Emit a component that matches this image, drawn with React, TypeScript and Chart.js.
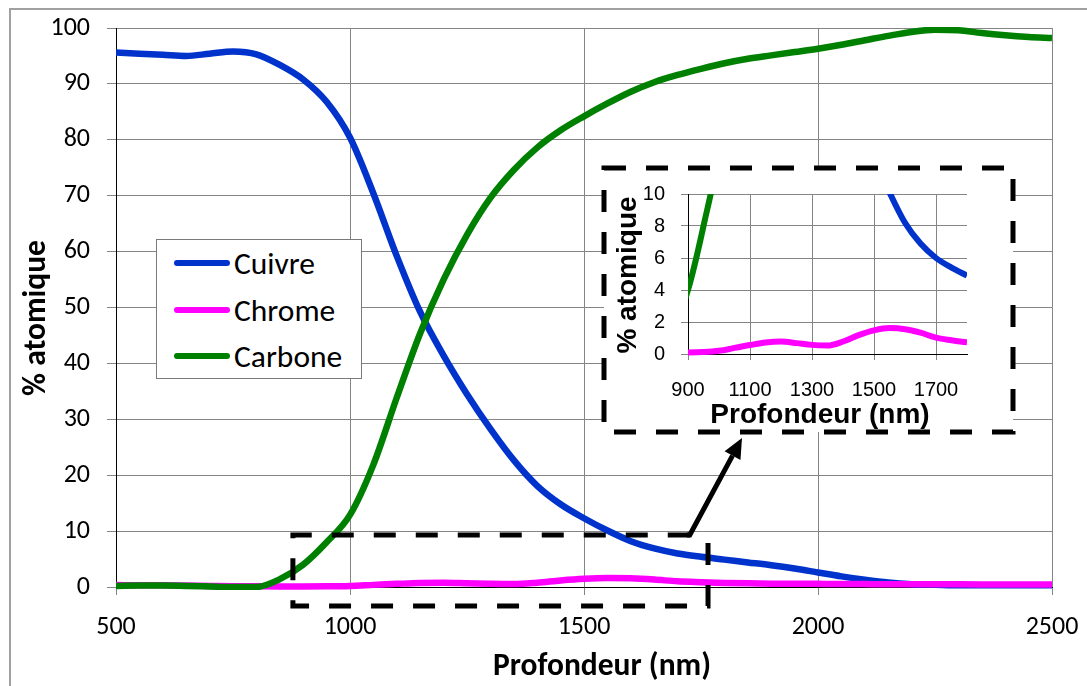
import React, { useEffect, useRef } from "react";
import { Chart, registerables } from "chart.js";
Chart.register(...registerables);

// ---------- data ----------
const DEPTH = [
  500, 550, 600, 650, 700, 750, 800, 850, 900, 950, 1000, 1050, 1100, 1150, 1200, 1250, 1300, 1350, 1400, 1450,
  1500, 1550, 1600, 1650, 1700, 1750, 1800, 1850, 1900, 1950, 2000, 2050, 2100, 2150, 2200, 2250, 2300, 2350,
  2400, 2450, 2500,
];
const CUIVRE = [
  95.6, 95.4, 95.2, 95.0, 95.4, 95.8, 95.3, 93.4, 90.8, 86.8, 80.4, 70.4, 59.2, 49.2, 41.4, 34.5, 28.3, 22.7, 18.1,
  14.8, 12.3, 10.1, 8.2, 6.9, 6.0, 5.4, 4.9, 4.4, 3.9, 3.3, 2.6, 1.9, 1.3, 0.8, 0.5, 0.4, 0.3, 0.3, 0.3, 0.3, 0.3,
];
const CHROME = [
  0.35, 0.3, 0.3, 0.25, 0.2, 0.15, 0.12, 0.1, 0.1, 0.12, 0.2, 0.38, 0.56, 0.72, 0.78, 0.68, 0.57, 0.53, 0.78, 1.18,
  1.48, 1.62, 1.55, 1.33, 1.02, 0.86, 0.73, 0.65, 0.6, 0.58, 0.56, 0.55, 0.52, 0.5, 0.5, 0.48, 0.47, 0.46, 0.45,
  0.45, 0.45,
];
const CARBONE = [
  0.2, 0.25, 0.25, 0.2, 0.1, 0.0, 0.0, 1.4, 4.0, 8.0, 12.9, 21.9, 33.9, 45.4, 55.0, 63.0, 69.6, 74.6, 78.6, 81.7,
  84.2, 86.5, 88.6, 90.3, 91.6, 92.7, 93.7, 94.5, 95.1, 95.7, 96.3, 97.0, 97.8, 98.6, 99.3, 99.7, 99.6, 99.1, 98.7,
  98.4, 98.2,
];
const SERIES_NAMES = ["Cuivre", "Chrome", "Carbone"];
const SERIES_COLORS = ["#0033CC", "#FF00FF", "#008000"];

const MAIN_X_TICKS = [500, 1000, 1500, 2000, 2500];
const MAIN_Y_TICKS = [0, 10, 20, 30, 40, 50, 60, 70, 80, 90, 100];
const INSET_X_TICKS = [900, 1100, 1300, 1500, 1700];
const INSET_Y_TICKS = [0, 2, 4, 6, 8, 10];

const X_TITLE = "Profondeur (nm)";
const Y_TITLE = "% atomique";

// highlighted region of the main chart (data units)
const ZOOM_X = [878, 1765];
const ZOOM_Y = [-3.4, 9.3];
const ARROW_FROM_X = 1726;

const MAIN_FONT = "Carlito, Calibri, Lato, sans-serif";
const INSET_FONT = "'Liberation Sans', Arial, sans-serif";

function makeDatasets(width: number, inset: boolean) {
  const values = [CUIVRE, CHROME, CARBONE];
  return values.map((vals, i) => ({
    label: SERIES_NAMES[i],
    data: DEPTH.map((x, j) => ({ x, y: vals[j] })),
    borderColor: SERIES_COLORS[i],
    backgroundColor: SERIES_COLORS[i],
    borderWidth: width,
    pointRadius: 0,
    fill: false,
    cubicInterpolationMode: "monotone" as const,
    order: 2 - i,
    clip: inset ? { left: 0, top: 0, right: 0, bottom: 3 } : { left: 0, top: 1, right: 0, bottom: 3 },
  }));
}

function setTicks(list: number[]) {
  return (scale: any) => {
    scale.ticks = list.map((v) => ({ value: v }));
  };
}

function fixX(height: number) {
  return (s: any) => {
    s.height = height;
    s.paddingLeft = 0;
    s.paddingRight = 0;
  };
}
function fixY(width: number) {
  return (s: any) => {
    s.width = width;
    s.paddingTop = 0;
    s.paddingBottom = 0;
  };
}

const plainLabel = (v: any) => String(v);

export default function App() {
  const mainRef = useRef<HTMLCanvasElement>(null);
  const insetRef = useRef<HTMLCanvasElement>(null);

  useEffect(() => {
    const mainOverlay = {
      id: "mainOverlay",
      afterDraw(chart: any) {
        const ctx = chart.ctx;
        const xs = chart.scales.x;
        const ys = chart.scales.y;
        ctx.save();
        // inset frame (white backing + dashed border)
        ctx.fillStyle = "#ffffff";
        ctx.fillRect(604, 168, 409, 264);
        ctx.strokeStyle = "#000";
        ctx.lineWidth = 5;
        ctx.setLineDash([22, 20]);
        ctx.strokeRect(604, 168, 409, 264);

        // highlighted region
        const l = xs.getPixelForValue(ZOOM_X[0]);
        const r = xs.getPixelForValue(ZOOM_X[1]);
        const t = ys.getPixelForValue(ZOOM_Y[1]);
        const b = ys.getPixelForValue(ZOOM_Y[0]);
        const ax = xs.getPixelForValue(ARROW_FROM_X);
        ctx.beginPath();
        ctx.moveTo(ax, t);
        ctx.lineTo(l, t);
        ctx.lineTo(l, b);
        ctx.lineTo(r, b);
        ctx.lineTo(r, t);
        ctx.stroke();

        // arrow to inset
        ctx.setLineDash([]);
        const tipX = 742;
        const tipY = 438;
        const ang = Math.atan2(tipY - t, tipX - ax);
        const headLen = 20;
        const headW = 9;
        const bx = tipX - headLen * Math.cos(ang);
        const by = tipY - headLen * Math.sin(ang);
        ctx.beginPath();
        ctx.moveTo(ax - 3, t);
        ctx.lineTo(ax, t);
        ctx.lineTo(bx, by);
        ctx.lineWidth = 5;
        ctx.lineJoin = "miter";
        ctx.stroke();
        ctx.beginPath();
        ctx.moveTo(tipX, tipY);
        ctx.lineTo(bx + headW * Math.sin(ang), by - headW * Math.cos(ang));
        ctx.lineTo(bx - headW * Math.sin(ang), by + headW * Math.cos(ang));
        ctx.closePath();
        ctx.fillStyle = "#000";
        ctx.fill();

        // axis titles
        ctx.fillStyle = "#000";
        ctx.font = `bold 31.5px ${MAIN_FONT}`;
        ctx.textAlign = "center";
        ctx.textBaseline = "middle";
        ctx.fillText(X_TITLE, 602, 667);
        ctx.translate(37, 318);
        ctx.rotate(-Math.PI / 2);
        ctx.fillText(Y_TITLE, 0, 0);
        ctx.restore();
      },
    };

    const main = new Chart(mainRef.current as HTMLCanvasElement, {
      type: "line",
      data: { datasets: makeDatasets(6.5, false) as any },
      options: {
        animation: false,
        responsive: false,
        maintainAspectRatio: false,
        layout: { padding: { left: 0, top: 28, right: 35, bottom: 0 } },
        plugins: { legend: { display: false }, tooltip: { enabled: false }, title: { display: false } },
        scales: {
          x: {
            type: "linear",
            min: 500,
            max: 2500,
            afterBuildTicks: setTicks(MAIN_X_TICKS),
            afterFit: fixX(99),
            grid: { color: "#858585", lineWidth: 1, tickLength: 8 },
            border: { color: "#000", width: 1 },
            ticks: {
              color: "#000",
              font: { family: MAIN_FONT, size: 26 },
              padding: 17,
              maxRotation: 0,
              callback: plainLabel,
            },
          },
          y: {
            type: "linear",
            min: 0,
            max: 100,
            afterBuildTicks: setTicks(MAIN_Y_TICKS),
            afterFit: fixY(116),
            grid: { color: "#858585", lineWidth: 1, tickLength: 9 },
            border: { color: "#000", width: 1 },
            ticks: { color: "#000", font: { family: MAIN_FONT, size: 26 }, padding: 17, callback: plainLabel },
          },
        },
      },
      plugins: [mainOverlay],
    } as any);

    const insetOverlay = {
      id: "insetOverlay",
      afterDraw(chart: any) {
        const ctx = chart.ctx;
        ctx.save();
        ctx.fillStyle = "#000";
        ctx.font = `bold 28px ${INSET_FONT}`;
        ctx.textAlign = "center";
        ctx.textBaseline = "middle";
        ctx.fillText(X_TITLE, 220, 250);
        ctx.translate(28, 110);
        ctx.rotate(-Math.PI / 2);
        ctx.fillText(Y_TITLE, 0, 0);
        ctx.restore();
      },
    };

    const inset = new Chart(insetRef.current as HTMLCanvasElement, {
      type: "line",
      data: { datasets: makeDatasets(6, true) as any },
      options: {
        animation: false,
        responsive: false,
        maintainAspectRatio: false,
        layout: { padding: { left: 0, top: 29, right: 43, bottom: 0 } },
        plugins: { legend: { display: false }, tooltip: { enabled: false }, title: { display: false } },
        scales: {
          x: {
            type: "linear",
            min: 900,
            max: 1800,
            afterBuildTicks: setTicks(INSET_X_TICKS),
            afterFit: fixX(76),
            grid: { color: "#858585", lineWidth: 1, tickLength: 6 },
            border: { color: "#000", width: 1 },
            ticks: {
              color: "#000",
              font: { family: INSET_FONT, size: 20 },
              padding: 18,
              maxRotation: 0,
              callback: plainLabel,
            },
          },
          y: {
            type: "linear",
            min: 0,
            max: 10,
            afterBuildTicks: setTicks(INSET_Y_TICKS),
            afterFit: fixY(88),
            grid: { color: "#858585", lineWidth: 1, tickLength: 7 },
            border: { color: "#000", width: 1 },
            ticks: { color: "#000", font: { family: INSET_FONT, size: 20 }, padding: 16, callback: plainLabel },
          },
        },
      },
      plugins: [insetOverlay],
    } as any);

    return () => {
      main.destroy();
      inset.destroy();
    };
  }, []);

  const legendRows = SERIES_NAMES.map((name, i) => (
    <div
      key={name}
      style={{ position: "absolute", left: 0, top: 23 + i * 46.5 - 20, height: 40, display: "flex", alignItems: "center" }}
    >
      <div
        style={{
          marginLeft: 17,
          width: 56,
          height: 6,
          borderRadius: 3,
          background: SERIES_COLORS[i],
        }}
      />
      <span style={{ marginLeft: 4, fontFamily: MAIN_FONT, fontSize: 31.5, color: "#000", lineHeight: "40px" }}>
        {name}
      </span>
    </div>
  ));

  return (
    <div
      style={{
        position: "fixed",
        left: 0,
        top: 0,
        width: 1087,
        height: 686,
        overflow: "hidden",
        background: "#fff",
      }}
    >
      <div
        style={{
          position: "absolute",
          left: 9,
          top: 8,
          width: 1200,
          height: 800,
          border: "2px solid #a0a0a0",
        }}
      />
      <canvas ref={mainRef} width={1087} height={686} style={{ position: "absolute", left: 0, top: 0 }} />
      <canvas ref={insetRef} width={410} height={265} style={{ position: "absolute", left: 600, top: 165 }} />
      <div
        style={{
          position: "absolute",
          left: 156,
          top: 239,
          width: 204,
          height: 138,
          background: "#fff",
          border: "1px solid #7a7a7a",
        }}
      >
        {legendRows}
      </div>
    </div>
  );
}
